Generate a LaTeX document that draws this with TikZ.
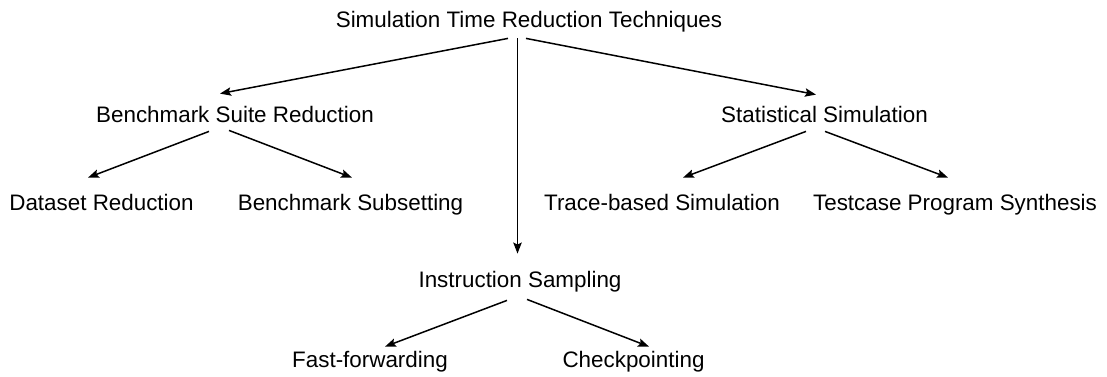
\documentclass[tikz,border=0pt]{standalone}
\usepackage{fontspec}
\setmainfont{Liberation Sans}
\usetikzlibrary{arrows, arrows.meta}

\tikzset{
  lbl/.style={anchor=base, font=\fontsize{11.2}{13}\selectfont, text height=8pt, text depth=2.5pt, inner xsep=0pt, inner ysep=3pt},
  edge/.style={line width=0.75pt, -{Stealth[length=5.5pt,width=4.2pt,inset=1pt]}}
}

\begin{document}
\begin{tikzpicture}[x=0.5pt,y=-0.5pt]
\useasboundingbox (0,0) rectangle (1107,376);

\node[lbl] (root) at (529,27) {Simulation Time Reduction Techniques};

\node[lbl] (bsr) at (235,122) {Benchmark Suite Reduction};
\node[lbl] (stat) at (824.5,122) {Statistical Simulation};

\node[lbl] (dsr) at (101.5,210) {Dataset Reduction};
\node[lbl] (bsub) at (350.5,210) {Benchmark Subsetting};
\node[lbl] (trace) at (662,210) {Trace-based Simulation};
\node[lbl] (tps) at (955,210) {Testcase Program Synthesis};

\node[lbl] (isamp) at (520,287) {Instruction Sampling};

\node[lbl] (ffwd) at (370,367) {Fast-forwarding};
\node[lbl] (chkpt) at (633.5,367) {Checkpointing};

% top level
\draw[edge] ([xshift=-10.5pt]root.south) -- ([xshift=-7.5pt,yshift=3pt]bsr.north);
\draw[edge] ([xshift=-5.75pt]root.south) -- ([xshift=-1.25pt,yshift=5.5pt]isamp.north);
\draw[edge] ([xshift=-1.5pt]root.south) -- ([xshift=-4.25pt,yshift=2.5pt]stat.north);

% benchmark suite reduction
\draw[edge] ([xshift=-13pt,yshift=1pt]bsr.south) -- ([xshift=-6.75pt,yshift=5pt]dsr.north);
\draw[edge] ([xshift=-3pt,yshift=1.5pt]bsr.south) -- ([xshift=0.75pt,yshift=5pt]bsub.north);

% statistical simulation
\draw[edge] ([xshift=-9.25pt,yshift=1pt]stat.south) -- ([xshift=10.5pt,yshift=5pt]trace.north);
\draw[edge] ([xshift=0.25pt,yshift=1pt]stat.south) -- ([xshift=-3.5pt,yshift=5pt]tps.north);

% instruction sampling
\draw[edge] ([xshift=-6.5pt,yshift=-1pt]isamp.south) -- ([xshift=7.5pt,yshift=-1pt]ffwd.north);
\draw[edge] ([xshift=3.5pt,yshift=-0.5pt]isamp.south) -- ([xshift=7.75pt,yshift=-1pt]chkpt.north);
\end{tikzpicture}
\end{document}
